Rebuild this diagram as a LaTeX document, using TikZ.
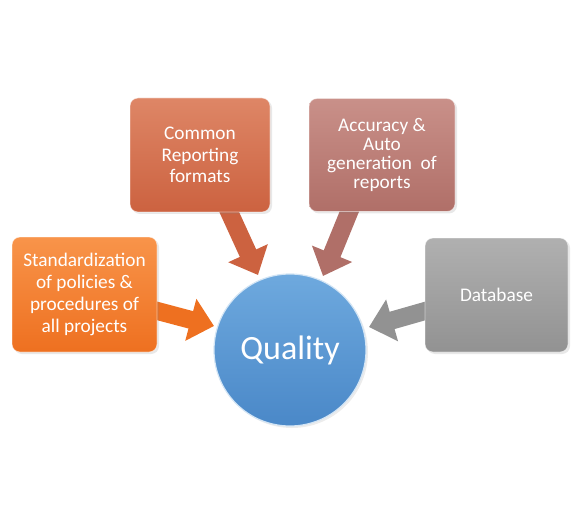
\documentclass[tikz,border=0pt]{standalone}
\usepackage{fontspec}
\setmainfont{Carlito}
\usetikzlibrary{arrows.meta,shadows,calc}
\definecolor{orgT}{HTML}{F8944A}
\definecolor{orgB}{HTML}{EE7020}
\definecolor{terT}{HTML}{DE8666}
\definecolor{terB}{HTML}{CC6240}
\definecolor{rosT}{HTML}{C99089}
\definecolor{rosB}{HTML}{B06F68}
\definecolor{gryT}{HTML}{B0B0B0}
\definecolor{gryB}{HTML}{929292}
\definecolor{bluT}{HTML}{6EA9DE}
\definecolor{bluB}{HTML}{4A88C8}
\begin{document}
\begin{tikzpicture}[x=1pt,y=-1pt,
  box/.style={rectangle, rounded corners=8pt, align=center, text=white,
    font=\fontsize{19.3}{21.7}\selectfont, inner sep=0pt,
    draw=white, draw opacity=0.5, line width=0.8pt,
    drop shadow={opacity=0.18, shadow xshift=2pt, shadow yshift=-2pt}},
  blockarrow/.style={line width=18pt, -{Triangle[width=42pt,length=24pt]}},
  ball/.style={circle, minimum size=152pt, inner sep=0pt, text=white,
    font=\fontsize{34}{36}\selectfont, top color=bluT, bottom color=bluB,
    draw=white!70!bluT, line width=1.2pt,
    drop shadow={opacity=0.15, shadow xshift=2pt, shadow yshift=-2pt}}]
\useasboundingbox (0,0) rectangle (580,529);

% arrow end points
\coordinate (s1) at (150,309);
\coordinate (t1) at (214,326);
\coordinate (s2) at (226,205);
\coordinate (t2) at (258,275);
\coordinate (s3) at (352,205);
\coordinate (t3) at (323,276);
\coordinate (s4) at (432,309);
\coordinate (t4) at (369,327);

\draw[blockarrow, orgB] (s1) -- (t1);
\draw[blockarrow, terB] (s2) -- (t2);
\draw[blockarrow, rosB] (s3) -- (t3);
\draw[blockarrow, gryB] (s4) -- (t4);

\node[box, minimum width=145pt, minimum height=115pt, top color=orgT, bottom color=orgB]
  (std) at (84.5,294.5) {Standardization\\of policies \&\\procedures of\\all projects};
\node[box, minimum width=140pt, minimum height=114pt, top color=terT, bottom color=terB]
  (com) at (200,155) {Common\\Reporting\\formats};
\node[box, minimum width=146pt, minimum height=113pt, top color=rosT, bottom color=rosB,
  font=\fontsize{19.3}{18.8}\selectfont]
  (acc) at (382,155) {Accuracy \&\\Auto\\generation~ of\\reports};
\node[box, minimum width=143pt, minimum height=114pt, top color=gryT, bottom color=gryB]
  (db) at (496.5,295) {Database};

\node[ball] (q) at (290,350) {Quality};
\end{tikzpicture}
\end{document}
